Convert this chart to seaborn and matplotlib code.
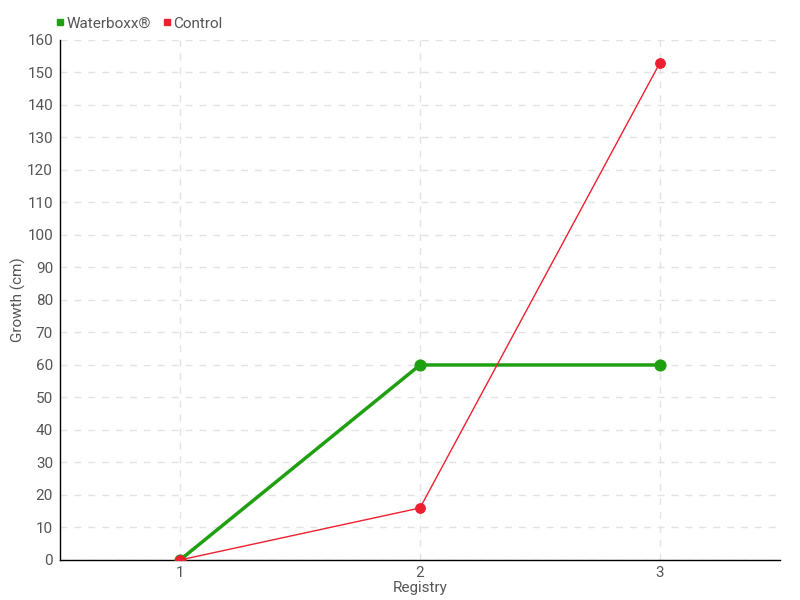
import seaborn as sns
import matplotlib.pyplot as plt
import pandas as pd
from matplotlib.lines import Line2D

registry = [1, 2, 3]
waterboxx = [0, 60, 60]
control = [0, 16, 153]
yticks = list(range(0, 161, 10))

green = '#1fa012'
red = '#ee1f30'
txt = '#555555'

df = pd.DataFrame({
    'Registry': registry * 2,
    'Growth': waterboxx + control,
    'Series': ['Waterboxx®'] * 3 + ['Control'] * 3,
})

sns.set_style('white')
plt.rcParams['font.family'] = ['Roboto', 'DejaVu Sans']

fig = plt.figure(figsize=(8, 6), dpi=100)
ax = fig.add_axes([0.075, 0.0667, 0.9, 0.8667])

sns.lineplot(data=df[df.Series == 'Waterboxx®'], x='Registry', y='Growth',
             color=green, linewidth=2.5, marker='o', markersize=8,
             markeredgecolor=green, ax=ax, zorder=3)
sns.lineplot(data=df[df.Series == 'Control'], x='Registry', y='Growth',
             color=red, linewidth=1, marker='o', markersize=7,
             markeredgecolor=red, ax=ax, zorder=4)

ax.set_xlim(0.5, 3.5)
ax.set_ylim(0, 160)
ax.set_xticks(registry)
ax.set_yticks(yticks)
ax.grid(True, color='#e2e2e2', linestyle=(0, (5, 5)), linewidth=1)
for s in ['top', 'right']:
    ax.spines[s].set_visible(False)
for s in ['left', 'bottom']:
    ax.spines[s].set_color('black')
    ax.spines[s].set_linewidth(1)
ax.tick_params(axis='both', colors='black', labelcolor=txt, labelsize=11,
               length=4, width=1, direction='out', pad=1)
ax.tick_params(axis='x', pad=0)
ax.set_xlabel('Registry', color=txt, fontsize=11, labelpad=1)
ax.set_ylabel('Growth (cm)', color=txt, fontsize=11, labelpad=1)

handles = [Line2D([], [], linestyle='none', marker='s', color=green, markersize=5),
           Line2D([], [], linestyle='none', marker='s', color=red, markersize=5)]
fig.legend(handles, ['Waterboxx®', 'Control'], loc='upper left',
           bbox_to_anchor=(0.05, 0.995), ncol=2, frameon=False,
           fontsize=11, labelcolor=txt, handletextpad=0.05, columnspacing=0.6,
           handlelength=0.8)

fig.savefig('out.png', dpi=100)
